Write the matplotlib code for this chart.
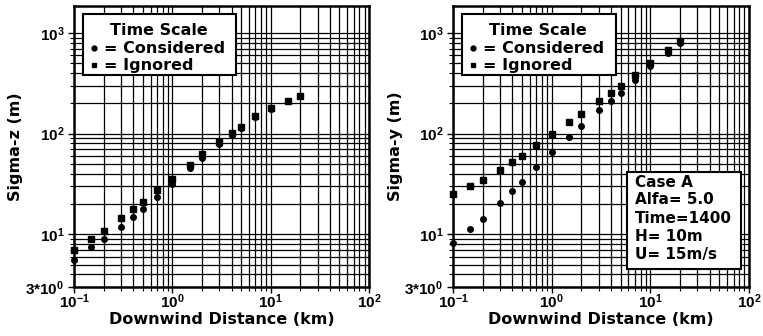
import numpy as np
import matplotlib
matplotlib.use('Agg')
import matplotlib.pyplot as plt
from matplotlib.patches import Rectangle
from matplotlib.ticker import FixedLocator, NullFormatter, LogLocator

plt.rcParams['font.family'] = ['DejaVu Sans']
plt.rcParams['font.weight'] = 'bold'
plt.rcParams['mathtext.fontset'] = 'custom'
plt.rcParams['mathtext.rm'] = 'Liberation Sans:bold'
plt.rcParams['mathtext.bf'] = 'Liberation Sans:bold'
plt.rcParams['mathtext.default'] = 'bf'

# 下风距离 (km)
dist = [0.1, 0.15, 0.2, 0.3, 0.4, 0.5, 0.7, 1, 1.5, 2, 3, 4, 5, 7, 10, 15, 20]

# sigma-z
sz_considered = [5.6, 7.5, 8.9, 11.9, 14.9, 17.7, 23.7, 31.4, 45.4, 57.8, 78.7, 96.6, 113, 145, 174, 211, 235]
sz_ignored = [7.0, 8.9, 10.8, 14.4, 17.7, 20.9, 27.4, 35.3, 48.6, 62.5, 82.8, 101, 117, 148, 178, 212, 238]

# sigma-y
sy_considered = [8.25, 11.2, 14.1, 20.6, 27, 33.4, 47.1, 65.9, 93.6, 120, 171, 212, 256, 343, 464, 631, 789]
sy_ignored = [25.4, 30.2, 34.7, 44, 52.5, 60.3, 77.4, 99, 129, 156, 209, 253, 299, 385, 501, 676, 825]

yticks = [3, 10, 100, 1000]
ytick_labels = [r'$3{*}10^{0}$', r'$10^{1}$', r'$10^{2}$', r'$10^{3}$']
xticks = [0.1, 1, 10, 100]
xtick_labels = [r'$10^{-1}$', r'$10^{0}$', r'$10^{1}$', r'$10^{2}$']

case_lines = ['Case A', 'Alfa= 5.0', 'Time=1400', 'H= 10m', 'U= 15m/s']


def setup(ax, ylabel, ylab_x):
    ax.set_xscale('log')
    ax.set_yscale('log')
    ax.set_xlim(0.1, 100)
    ax.set_ylim(3, 1850)
    ax.xaxis.set_major_locator(FixedLocator(xticks))
    ax.set_xticklabels(xtick_labels)
    ax.yaxis.set_major_locator(FixedLocator(yticks))
    ax.set_yticklabels(ytick_labels)
    ax.xaxis.set_minor_locator(LogLocator(base=10, subs=np.arange(2, 10)))
    ax.yaxis.set_minor_locator(LogLocator(base=10, subs=np.arange(2, 10)))
    ax.xaxis.set_minor_formatter(NullFormatter())
    ax.yaxis.set_minor_formatter(NullFormatter())
    ax.tick_params(which='major', direction='out', length=4, width=1, labelsize=11, pad=3)
    ax.tick_params(axis='x', which='major', pad=0)
    ax.tick_params(which='minor', direction='out', length=3, width=0.8)
    ax.grid(which='both', color='black', lw=0.9)
    for s in ax.spines.values():
        s.set_linewidth(1.8)
    ax.set_xlabel('Downwind Distance (km)', fontsize=11.5, fontweight='bold')
    ax.set_ylabel(ylabel, fontsize=11.5, fontweight='bold')
    ax.xaxis.set_label_coords(0.5, -0.089)
    ax.yaxis.set_label_coords(ylab_x, 0.5)


def legend_box(ax):
    ax.add_patch(Rectangle((0.031, 0.754), 0.519, 0.217, transform=ax.transAxes,
                           facecolor='white', edgecolor='black', lw=1.5, zorder=5))
    ax.text(0.287, 0.912, 'Time Scale', transform=ax.transAxes, ha='center', va='center',
            fontsize=11.5, fontweight='bold', zorder=6)
    ax.plot([0.069], [0.849], 'o', color='black', ms=3.5, transform=ax.transAxes, zorder=6, clip_on=False)
    ax.plot([0.069], [0.790], 's', color='black', ms=3.5, transform=ax.transAxes, zorder=6, clip_on=False)
    ax.text(0.102, 0.849, '= Considered', transform=ax.transAxes, ha='left', va='center',
            fontsize=11.5, fontweight='bold', zorder=6)
    ax.text(0.102, 0.790, '= Ignored', transform=ax.transAxes, ha='left', va='center',
            fontsize=11.5, fontweight='bold', zorder=6)


fig = plt.figure(figsize=(7.63, 3.36), dpi=100)
ax1 = fig.add_axes([74 / 763, 49 / 336, 295 / 763, 281 / 336])
ax2 = fig.add_axes([453 / 763, 49 / 336, 296 / 763, 281 / 336])

setup(ax1, 'Sigma-z (m)', -0.173)
ax1.plot(dist, sz_considered, 'o', color='black', ms=4, clip_on=False, zorder=3)
ax1.plot(dist, sz_ignored, 's', color='black', ms=4, clip_on=False, zorder=3)
legend_box(ax1)

setup(ax2, 'Sigma-y (m)', -0.169)
ax2.plot(dist, sy_considered, 'o', color='black', ms=4, clip_on=False, zorder=3)
ax2.plot(dist, sy_ignored, 's', color='black', ms=4, clip_on=False, zorder=3)
legend_box(ax2)

ax2.add_patch(Rectangle((0.588, 0.064), 0.385, 0.345, transform=ax2.transAxes,
                        facecolor='white', edgecolor='black', lw=1.5, zorder=5))
ys = [0.371, 0.310, 0.245, 0.180, 0.117]
for t, yy in zip(case_lines, ys):
    ax2.text(0.615, yy, t, transform=ax2.transAxes, ha='left', va='center',
             fontsize=11, fontweight='bold', zorder=6)

plt.savefig('out.png', dpi=100)
plt.close()
